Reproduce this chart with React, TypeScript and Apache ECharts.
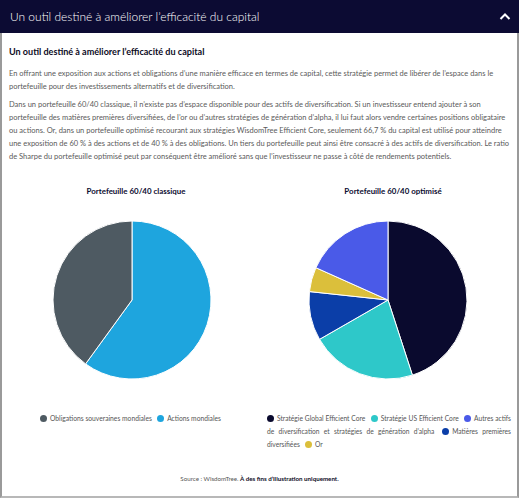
import React, { useEffect, useRef } from "react";
import * as echarts from "echarts";

const headerTitle = "Un outil destiné à améliorer l’efficacité du capital";
const sectionTitle = "Un outil destiné à améliorer l’efficacité du capital";
const para1Lines = [
  "En offrant une exposition aux actions et obligations d’une manière efficace en termes de capital, cette stratégie permet de libérer de l’espace dans le",
  "portefeuille pour des investissements alternatifs et de diversification.",
];
const para2Lines = [
  "Dans un portefeuille 60/40 classique, il n’existe pas d’espace disponible pour des actifs de diversification. Si un investisseur entend ajouter à son",
  "portefeuille des matières premières diversifiées, de l’or ou d’autres stratégies de génération d’alpha, il lui faut alors vendre certaines positions obligataire",
  "ou actions. Or, dans un portefeuille optimisé recourant aux stratégies WisdomTree Efficient Core, seulement 66,7 % du capital est utilisé pour atteindre",
  "une exposition de 60 % à des actions et de 40 % à des obligations. Un tiers du portefeuille peut ainsi être consacré à des actifs de diversification. Le ratio",
  "de Sharpe du portefeuille optimisé peut par conséquent être amélioré sans que l’investisseur ne passe à côté de rendements potentiels.",
];

const classicTitle = "Portefeuille 60/40 classique";
const classicNames = ["Obligations souveraines mondiales", "Actions mondiales"];
const classicValues = [40, 60];
const classicColors = ["#4e5a62", "#1ea5de"];
const classicDrawOrder = [1, 0];

const optimTitle = "Portefeuille 60/40 optimisé";
const optimNames = [
  "Stratégie Global Efficient Core",
  "Stratégie US Efficient Core",
  "Autres actifs de diversification et stratégies de génération d’alpha",
  "Matières premières diversifiées",
  "Or",
];
const optimValues = [45, 21.7, 18.3, 10, 5];
const optimColors = ["#0a0a2e", "#2ec8c9", "#4a5ae8", "#0b3ea8", "#dbbf3b"];
const optimDrawOrder = [0, 1, 3, 4, 2];

const sourceText = "Source : WisdomTree. ";
const sourceBold = "À des fins d’illustration uniquement.";

const FONT = "Lato, 'Noto Sans', sans-serif";

let ctx: CanvasRenderingContext2D | null = null;
function textWidth(text: string, weight: string | number): number {
  if (!ctx) ctx = document.createElement("canvas").getContext("2d");
  ctx!.font = `${weight} 100px ${FONT}`;
  return ctx!.measureText(text).width;
}
function fitSize(text: string, weight: string | number, target: number): number {
  return (100 * target) / textWidth(text, weight);
}

function pieData(names: string[], values: number[], colors: string[], order: number[]) {
  return order.map((i) => ({
    name: names[i],
    value: values[i],
    itemStyle: { color: colors[i] },
  }));
}

const DOT = 7;
const DOT_GAP = 3;
const ITEM_GAP = 3.5;

type Seg = { item: number; text: string; first: boolean };

function layoutLegend(names: string[], size: number, width: number): Seg[][] {
  const k = size / 100;
  const space = textWidth(" ", 400) * k;
  const lines: Seg[][] = [];
  let line: Seg[] = [];
  let w = 0;
  names.forEach((n, item) => {
    n.split(" ").forEach((word, wi) => {
      const first = wi === 0;
      const tw = textWidth(word, 400) * k + (first ? DOT + DOT_GAP + (item > 0 ? ITEM_GAP : 0) : 0);
      const add = line.length ? space + tw : tw;
      if (line.length && w + add > width) {
        lines.push(line);
        line = [];
        w = 0;
      }
      const last = line[line.length - 1];
      if (last && last.item === item && !first) {
        last.text += " " + word;
      } else {
        line.push({ item, text: word, first });
      }
      w += line.length === 1 && w === 0 ? tw : add;
    });
  });
  if (line.length) lines.push(line);
  return lines;
}

function Legend({
  names,
  colors,
  size,
  width,
  style,
}: {
  names: string[];
  colors: string[];
  size: number;
  width: number;
  style: React.CSSProperties;
}) {
  const lines = layoutLegend(names, size, width);
  return (
    <div style={{ ...style, width, fontSize: size }}>
      {lines.map((segs, li) => (
        <div
          key={li}
          style={{
            whiteSpace: "nowrap",
            textAlign: li < lines.length - 1 ? "justify" : "left",
            textAlignLast: li < lines.length - 1 ? "justify" : "left",
          }}
        >
          {segs.map((s, si) => (
            <React.Fragment key={si}>
              {si > 0 ? " " : ""}
              {s.first ? (
                <span
                  style={{
                    display: "inline-block",
                    width: DOT,
                    height: DOT,
                    borderRadius: "50%",
                    background: colors[s.item],
                    marginLeft: s.item > 0 && !(li > 0 && si === 0) ? ITEM_GAP : 0,
                    marginRight: DOT_GAP,
                    verticalAlign: "-1px",
                  }}
                />
              ) : null}
              <span>{s.text}</span>
            </React.Fragment>
          ))}
        </div>
      ))}
    </div>
  );
}

export default function App() {
  const ref = useRef<HTMLDivElement>(null);

  const headerSize = fitSize(headerTitle, 300, 250);
  const sectionSize = fitSize(sectionTitle, 700, 196);
  const paraSize = fitSize(para1Lines[0], 400, 485);
  const leftLegSize = fitSize(classicNames[0], 400, 102);
  const rightLegSize = fitSize(optimNames[0], 400, 88);
  const sourceSize = (100 * 159) / (textWidth(sourceText, 400) + textWidth(sourceBold, 700));
  const chartTitleSize = fitSize(classicTitle, 700, 99);

  useEffect(() => {
    document.body.style.margin = "0";
    const chart = echarts.init(ref.current!, null, { renderer: "svg" });
    const titleStyle = {
      fontFamily: FONT,
      fontSize: chartTitleSize,
      fontWeight: "bold",
      color: "#0c0c30",
    };
    chart.setOption({
      animation: false,
      title: [
        { text: classicTitle, left: 131, top: 12, textAlign: "center", textStyle: titleStyle },
        { text: optimTitle, left: 388, top: 12, textAlign: "center", textStyle: titleStyle },
      ],
      series: [
        {
          type: "pie",
          center: [132, 130],
          radius: 79,
          startAngle: 90,
          clockwise: true,
          label: { show: false },
          labelLine: { show: false },
          itemStyle: { borderColor: "#fff", borderWidth: 1 },
          data: pieData(classicNames, classicValues, classicColors, classicDrawOrder),
        },
        {
          type: "pie",
          center: [388, 130],
          radius: 79,
          startAngle: 90,
          clockwise: true,
          label: { show: false },
          labelLine: { show: false },
          itemStyle: { borderColor: "#fff", borderWidth: 1 },
          data: pieData(optimNames, optimValues, optimColors, optimDrawOrder),
        },
      ],
    });
    return () => chart.dispose();
  }, []);

  const pStyle: React.CSSProperties = {
    position: "absolute",
    left: 9,
    fontFamily: FONT,
    fontSize: paraSize,
    lineHeight: "13px",
    color: "#5a5a5a",
    whiteSpace: "nowrap",
  };

  return (
    <div style={{ position: "relative", width: 520, height: 500, background: "#fff", fontFamily: FONT, overflow: "hidden" }}>
      <div
        style={{
          position: "absolute",
          left: 0,
          top: 0,
          width: 519,
          height: 498,
          boxSizing: "border-box",
          borderLeft: "2px solid #9a9a9a",
          borderRight: "2px solid #9a9a9a",
          borderBottom: "2px solid #b8b8b8",
        }}
      />
      <div style={{ position: "absolute", left: 0, top: 0, width: 519, height: 33, background: "#0c0b33" }}>
        <div
          style={{
            position: "absolute",
            left: 10,
            top: 0,
            lineHeight: "33px",
            fontSize: headerSize,
            fontWeight: 300,
            color: "#fff",
            whiteSpace: "nowrap",
          }}
        >
          {headerTitle}
        </div>
        <svg style={{ position: "absolute", left: 499, top: 12 }} width={12} height={9}>
          <polyline points="1.5,7 6,2.5 10.5,7" fill="none" stroke="#fff" strokeWidth={2} />
        </svg>
      </div>
      <div
        style={{
          position: "absolute",
          left: 9,
          top: 45,
          fontSize: sectionSize,
          lineHeight: "14px",
          fontWeight: 700,
          color: "#0c0b1e",
          whiteSpace: "nowrap",
        }}
      >
        {sectionTitle}
      </div>
      <div style={{ ...pStyle, top: 66.5 }}>
        {para1Lines.map((l) => (
          <div key={l}>{l}</div>
        ))}
      </div>
      <div style={{ ...pStyle, top: 97.5 }}>
        {para2Lines.map((l) => (
          <div key={l}>{l}</div>
        ))}
      </div>
      <div ref={ref} style={{ position: "absolute", left: 0, top: 170, width: 520, height: 230 }} />
      <Legend
        names={classicNames}
        colors={classicColors}
        size={leftLegSize}
        width={220}
        style={{ position: "absolute", left: 40, top: 411.5, lineHeight: "13px", color: "#555" }}
      />
      <Legend
        names={optimNames}
        colors={optimColors}
        size={rightLegSize}
        width={244}
        style={{ position: "absolute", left: 267, top: 411.5, lineHeight: "13px", color: "#555" }}
      />
      <div
        style={{
          position: "absolute",
          left: 0,
          width: 519,
          top: 473,
          textAlign: "center",
          fontSize: sourceSize,
          lineHeight: "12px",
          color: "#555",
          whiteSpace: "nowrap",
        }}
      >
        {sourceText}
        <b style={{ color: "#0c0b1e" }}>{sourceBold}</b>
      </div>
    </div>
  );
}
